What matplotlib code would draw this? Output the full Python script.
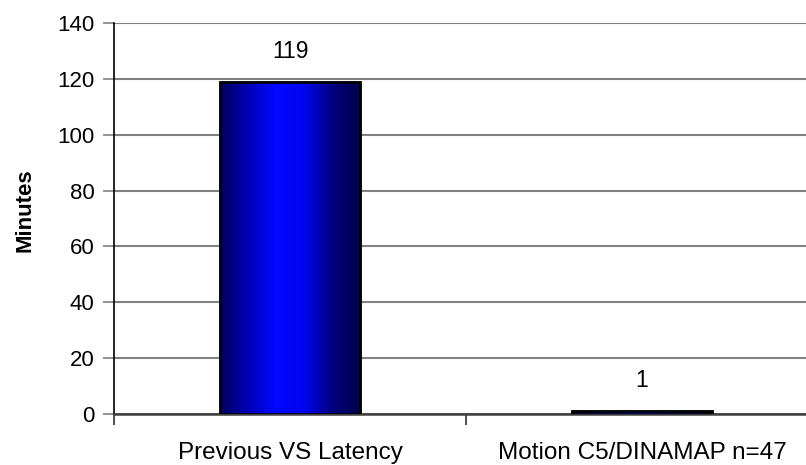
import matplotlib
matplotlib.use("Agg")
import matplotlib.pyplot as plt
import numpy as np
from matplotlib.colors import LinearSegmentedColormap

categories = ["Previous VS Latency", "Motion C5/DINAMAP n=47"]
values = [119, 1]
yticks = [0, 20, 40, 60, 80, 100, 120, 140]

plt.rcParams['font.family'] = ['Liberation Sans', 'DejaVu Sans']

fig = plt.figure(figsize=(8.06, 4.65), dpi=100)
ax = fig.add_axes([114/806, 51/465, 704/806, 391/465])

x = np.arange(len(categories))
bars = ax.bar(x, values, width=0.40, color='#0000ff', edgecolor='black', linewidth=1.8, zorder=3)

cmap = LinearSegmentedColormap.from_list('g', ['#00005a', '#0000b8', '#0008ff', '#0004f0', '#000080', '#00004a'])
grad = np.linspace(0, 1, 256).reshape(1, -1)
for b in bars:
    x0, w, h = b.get_x(), b.get_width(), b.get_height()
    im = ax.imshow(grad, cmap=cmap, aspect='auto', extent=(x0, x0 + w, 0, h), zorder=3.5, interpolation='bilinear')
    im.set_clip_path(b)
    ax.add_patch(plt.Rectangle((x0, 0), w, h, fill=False, edgecolor='black', linewidth=1.8, zorder=4))

for xi, v in zip(x, values):
    ax.annotate(str(v), (xi, v), xytext=(0, 22), textcoords='offset points',
                ha='center', va='center', fontsize=16.5)

ax.set_xlim(-0.5, 1.5)
ax.set_ylim(0, 140)
ax.set_yticks(yticks)
ax.set_yticklabels([str(t) for t in yticks], fontsize=16)
ax.yaxis.grid(True, color='#808080', linewidth=1.5, zorder=0)
ax.set_axisbelow(True)
ax.tick_params(axis='y', length=8, width=1.2, color='#808080', pad=6)

ax.set_xticks(x)
ax.set_xticklabels(categories, fontsize=17.5)
ax.set_xticks([-0.5, 0.5, 1.5], minor=True)
ax.tick_params(axis='x', which='major', length=0, pad=20)
ax.tick_params(axis='x', which='minor', length=8, width=1.2, color='#303030')

for s in ['top', 'right']:
    ax.spines[s].set_visible(False)
ax.spines['left'].set_color('black')
ax.spines['left'].set_linewidth(1.2)
ax.spines['bottom'].set_color('#404040')
ax.spines['bottom'].set_linewidth(1.8)

fig.text(25/806, 1 - 210/465, 'Minutes', rotation=90, ha='center', va='center', fontsize=16, fontweight='bold')

fig.savefig('out.png', dpi=100)
